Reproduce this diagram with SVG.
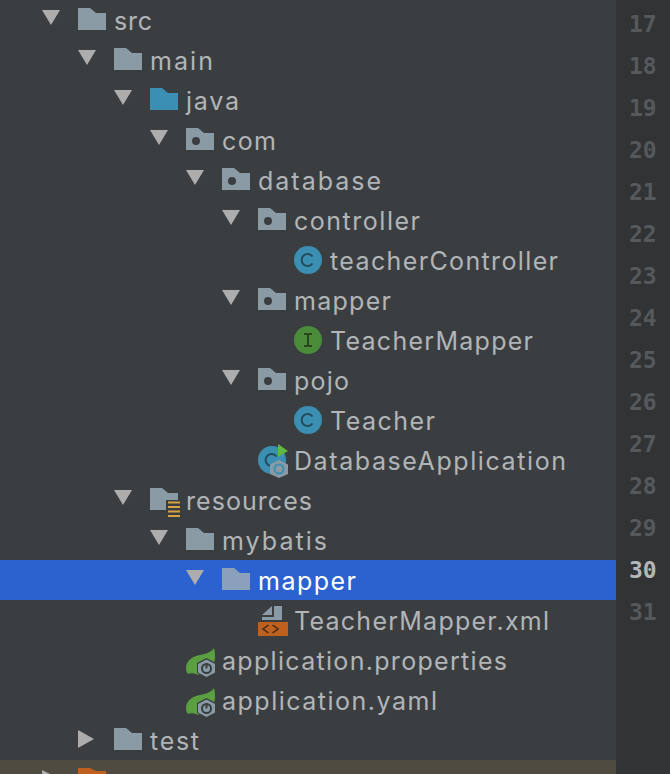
<svg xmlns="http://www.w3.org/2000/svg" width="670" height="774" viewBox="0 0 670 774">
<style>
.t{font-family:"Inter","Open Sans",sans-serif;font-size:25px;fill:#b2b5b7}
.n{font-family:"DejaVu Sans Mono","Liberation Mono",monospace;font-size:23px;font-weight:bold;fill:#56595c}
.a{fill:#adadad}
.f{fill:#8b9ba5}
</style>
<defs>
<path id="fold" d="M0 0H12L18 5H28V22H0Z"/>
<g id="pkg"><use href="#fold" class="f"/><circle cx="10" cy="13" r="4" fill="#3b3e41"/></g>
<path id="down" d="M0 0H18L9 15Z"/>
<g id="cls"><circle cx="14" cy="14" r="14" fill="#3a8fb2"/><path d="M18.500 10.500A6 6 0 1 0 18.500 17.500" fill="none" stroke="#234c5e" stroke-width="2"/></g>
<g id="spring"><path d="M0 18C2 11 8 8 14 7C20 6 25 4 28 0C30 8 29 15 26 20L12 27C9 25 4 25 2 26C0 24 0 21 0 18Z" fill="#5ba040"/><path d="M20.500 10L30 15V25L20.500 30.500L11 25V15Z" fill="#3b3e41"/><path d="M20.500 11.500L29 16V24.500L20.500 29L12 24.500V16Z" fill="#8b9ba5"/><circle cx="20.500" cy="20.500" r="4.500" fill="none" stroke="#3b3e41" stroke-width="2"/><path d="M20.500 15.500V20.500" stroke="#3b3e41" stroke-width="2"/></g>
</defs>
<rect width="670" height="774" fill="#3b3e41"/>
<rect x="616" width="54" height="774" fill="#323335"/>
<rect y="560" width="616" height="40" fill="#2b62d0"/>
<rect y="760" width="616" height="14" fill="#4f4b41"/>
<g id="connectors"></g>
<g id="gutter">
<text class="n" x="629" y="32">17</text><text class="n" x="629" y="74">18</text><text class="n" x="629" y="116">19</text><text class="n" x="629" y="158">20</text><text class="n" x="629" y="200">21</text><text class="n" x="629" y="242">22</text><text class="n" x="629" y="284">23</text><text class="n" x="629" y="326">24</text><text class="n" x="629" y="368">25</text><text class="n" x="629" y="410">26</text><text class="n" x="629" y="452">27</text><text class="n" x="629" y="494">28</text><text class="n" x="629" y="536">29</text><text class="n" x="629" y="578" style="fill:#b4b6b8">30</text><text class="n" x="629" y="620">31</text>
</g>
<g id="n-src"><use href="#down" x="42" y="10" class="a"/><use href="#fold" x="78" y="8" class="f"/><text class="t" x="114" y="30" textLength="38">src</text></g>
<g id="n-main"><use href="#down" x="78" y="50" class="a"/><use href="#fold" x="114" y="48" class="f"/><text class="t" x="150" y="70" textLength="63">main</text></g>
<g id="n-java"><use href="#down" x="114" y="90" class="a"/><use href="#fold" x="150" y="88" fill="#3a8fb2"/><text class="t" x="186" y="110" textLength="53">java</text></g>
<g id="n-com"><use href="#down" x="150" y="130" class="a"/><use href="#pkg" x="186" y="128"/><text class="t" x="222" y="150" textLength="54">com</text></g>
<g id="n-database"><use href="#down" x="186" y="170" class="a"/><use href="#pkg" x="222" y="168"/><text class="t" x="258" y="190" textLength="123">database</text></g>
<g id="n-controller"><use href="#down" x="222" y="210" class="a"/><use href="#pkg" x="258" y="208"/><text class="t" x="294" y="230" textLength="126">controller</text></g>
<g id="n-teacherController"><use href="#cls" x="294" y="246"/><text class="t" x="330" y="270" textLength="228">teacherController</text></g>
<g id="n-mapper"><use href="#down" x="222" y="290" class="a"/><use href="#pkg" x="258" y="288"/><text class="t" x="294" y="310" textLength="97">mapper</text></g>
<g id="n-TeacherMapper"><circle cx="308" cy="340" r="14" fill="#4b8c3a"/><path d="M304 334H312M308 334V346M304 346H312" stroke="#26471e" stroke-width="2" fill="none"/><text class="t" x="330" y="350" textLength="203">TeacherMapper</text></g>
<g id="n-pojo"><use href="#down" x="222" y="370" class="a"/><use href="#pkg" x="258" y="368"/><text class="t" x="294" y="390" textLength="55">pojo</text></g>
<g id="n-Teacher"><use href="#cls" x="294" y="406"/><text class="t" x="330" y="430" textLength="105">Teacher</text></g>
<g id="n-DatabaseApplication"><use href="#cls" x="258" y="446"/><path d="M278 444L288 451L278 457Z" fill="#5fb83f"/><path d="M279 460L288 464.500V474L279 478L270 474V464.500Z" fill="#8b9ba5"/><circle cx="279" cy="469" r="4.500" fill="none" stroke="#3a8fb2" stroke-width="2"/><text class="t" x="294" y="470" textLength="272">DatabaseApplication</text></g>
<g id="n-resources"><use href="#down" x="114" y="490" class="a"/><use href="#fold" x="150" y="488" class="f"/><rect x="166" y="500" width="16" height="18" fill="#3b3e41"/><path d="M168 502.500H180M168 507H180M168 511.500H180M168 516H180" stroke="#d9a343" stroke-width="2"/><text class="t" x="186" y="510" textLength="126">resources</text></g>
<g id="n-mybatis"><use href="#down" x="150" y="530" class="a"/><use href="#fold" x="186" y="528" class="f"/><text class="t" x="222" y="550" textLength="105">mybatis</text></g>
<g id="n-mapper2"><use href="#down" x="186" y="570" class="a"/><use href="#fold" x="222" y="568" fill="#8ba0bb"/><text class="t" x="258" y="590" style="fill:#fff" textLength="98">mapper</text></g>
<g id="n-TeacherMapperXml"><path d="M262 615L272 606V615ZM274 606H282V620H262V617H274Z" fill="#8b9ba5"/><rect x="258" y="622" width="30" height="14" fill="#c0601f"/><path d="M268.500 625L263 629L268.500 633M272.500 625L278 629L272.500 633" fill="none" stroke="#3f2a1a" stroke-width="1.500"/><text class="t" x="294" y="630" textLength="255">TeacherMapper.xml</text></g>
<g id="n-properties"><use href="#spring" x="186" y="648"/><text class="t" x="222" y="670" textLength="285">application.properties</text></g>
<g id="n-yaml"><use href="#spring" x="186" y="688"/><text class="t" x="222" y="710" textLength="215">application.yaml</text></g>
<g id="n-test"><path d="M78 730L94 739L78 748Z" class="a"/><use href="#fold" x="114" y="728" class="f"/><text class="t" x="150" y="750" textLength="49">test</text></g>
<g id="n-cut"><path d="M42 770L50 774H42Z" class="a"/><path d="M78 774V768H90L96 771H106V774Z" fill="#c0601f"/></g>
</svg>
